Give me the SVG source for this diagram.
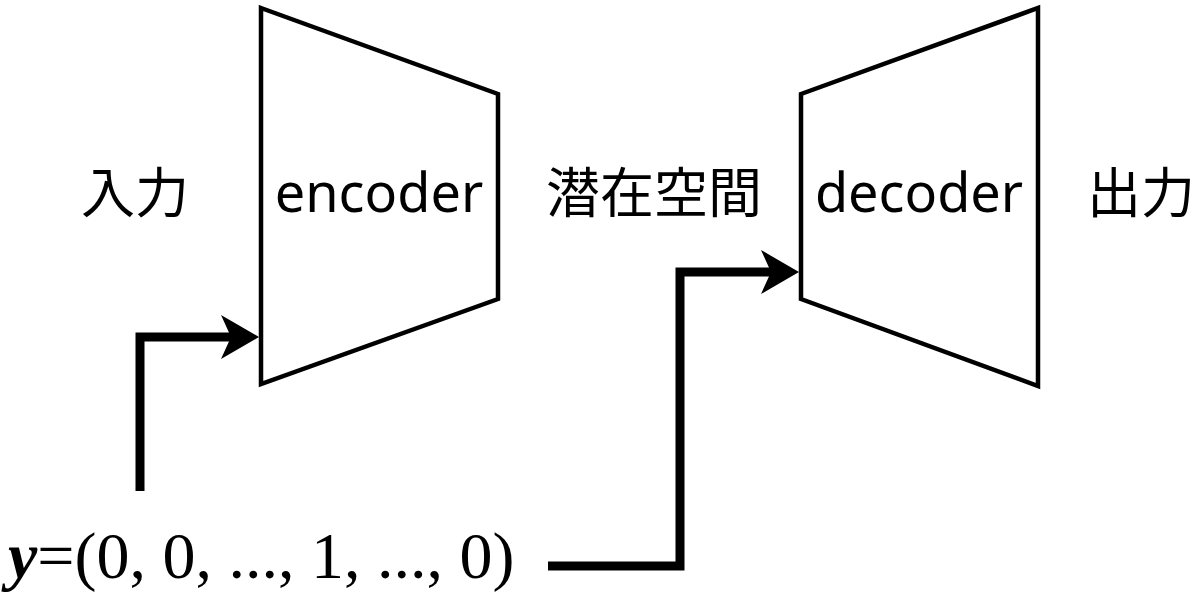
<svg xmlns="http://www.w3.org/2000/svg" width="1200" height="607" viewBox="0 0 1200 607">
<style>
.shape{fill:#fff;stroke:#000;stroke-width:4.5;stroke-linejoin:miter}
.lbl{font-family:"Noto Sans","Open Sans",sans-serif;font-size:54px;fill:#000;text-anchor:middle}
.cjk{font-family:"Noto Sans CJK JP",sans-serif;font-size:54px;fill:#000;text-anchor:middle}
.conn{fill:none;stroke:#000;stroke-width:9;stroke-linejoin:miter}
.vec{font-family:"Liberation Serif","Times New Roman",serif;font-size:66px;fill:#000}
</style>
<defs>
<marker id="arr" viewBox="0 0 38 44" refX="10" refY="22" markerWidth="38" markerHeight="44" markerUnits="userSpaceOnUse" orient="auto">
<path d="M0,0 L38,22 L0,44 L10,22 Z" fill="#000"/>
</marker>
</defs>
<rect width="1200" height="607" fill="#fff"/>
<g id="encoder">
<polygon class="shape" points="261,8 498,94 498,299 261,384"/>
<text class="lbl" x="379" y="212">encoder</text>
</g>
<g id="decoder">
<polygon class="shape" points="801,94 1038,8 1038,386 801,299"/>
<text class="lbl" x="919" y="212">decoder</text>
</g>
<g id="input"><text class="cjk" x="135" y="213">入力</text></g>
<g id="latent"><text class="cjk" x="654" y="213">潜在空間</text></g>
<g id="output"><text class="cjk" x="1141" y="213">出力</text></g>
<g id="label-y"><text class="vec" x="8" y="578"><tspan font-weight="bold" font-style="italic">y</tspan>=(0, 0, ..., 1, ..., 0)</text></g>
<g id="connectors">
<path class="conn" d="M140,491 L140,337 L231,337" marker-end="url(#arr)"/>
<path class="conn" d="M548,566 L680,566 L680,272 L771,272" marker-end="url(#arr)"/>
</g>
</svg>
